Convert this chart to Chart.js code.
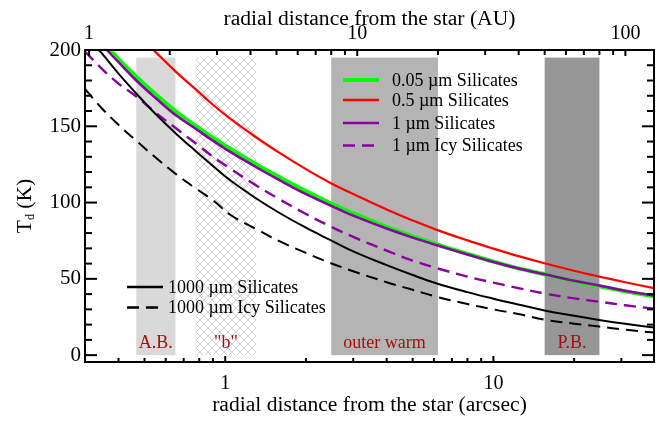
<!DOCTYPE html>
<html>
<head>
<meta charset="utf-8">
<title>Dust temperature vs. radial distance</title>
<script src="https://cdn.jsdelivr.net/npm/chart.js@4.4.1/dist/chart.umd.min.js"></script>
<style>
  html, body { margin: 0; padding: 0; background: #ffffff; }
  #wrap { width: 660px; height: 422px; }
</style>
</head>
<body>
<div id="wrap"><canvas id="chart" width="660" height="422"></canvas></div>
<script>
// ---- data ---------------------------------------------------------------
// angular to linear distance (AU per arcsec)
const AU_PER_ARCSEC = 3.22;

// sampling radii (arcsec)
const radiusArcsec = [0.3, 0.35, 0.4, 0.466, 0.55, 0.657, 0.773, 0.9, 1.044, 1.31, 1.6, 2.0,
                      2.46, 3.0, 4.0, 5.0, 6.15, 8.0, 10, 12.5, 15.5, 20, 24.8, 31, 39.7];

// dust temperatures (K) for each grain type; null = above 200 K
const tSil005   = [null, null, 194, 182.5, 171, 159.5, 150.5, 142.5, 135.4, 125, 116.5, 107.5,
                   99.7, 93, 84, 77.8, 72.6, 66.4, 61.3, 56.7, 53, 48.5, 45.2, 41.8, 38.5];
const tSil05    = [null, null, null, null, 198.6, 185.5, 174.5, 164.1, 155, 142.5, 132.4, 121.9,
                   113, 105.6, 95.5, 88.3, 82.1, 75.2, 69.8, 64.7, 60.2, 55.3, 51.5, 47.8, 43.9];
const tSil1     = [null, null, 192, 180, 168.5, 157, 148.5, 140.5, 133.2, 123, 114.5, 105.5,
                   98.2, 91.5, 83, 77, 72, 66, 61, 56.6, 53, 48.7, 45.6, 42.2, 39.0];
const tIcy1     = [199, 187, 178, 169.5, 159, 148.5, 139, 130, 122.3, 111, 102, 92.5,
                   84.5, 77.5, 68.5, 62, 57, 51.5, 47.5, 43.8, 40.4, 37.2, 35, 32.7, 30.4];
const tSil1000  = [null, 197, 184.5, 171.5, 158, 145, 134, 124, 114.6, 102.5, 93, 83.5,
                   75.5, 68, 59, 52.5, 47, 41.3, 37, 33, 29.3, 25.8, 23.1, 20.6, 18.1];
const tIcy1000  = [174.5, 161, 151, 140.5, 129.5, 118.5, 109.5, 101.5, 92, 82.5, 74.5, 67,
                   60.5, 55, 47.8, 42.8, 38.2, 33.5, 30, 26.8, 23.2, 20.6, 18.7, 16.7, 14.8];

// radius (arcsec) where each curve reaches 200 K
const entryRadius = [0.373, 0.54, 0.362, null, 0.337, null];

const seriesNames = ['0.05 \u00b5m Silicates', '0.5 \u00b5m Silicates', '1 \u00b5m Silicates',
                     '1 \u00b5m Icy Silicates', '1000 \u00b5m Silicates', '1000 \u00b5m Icy Silicates'];
const seriesValues = [tSil005, tSil05, tSil1, tIcy1, tSil1000, tIcy1000];

// dust belts / zones (AU)
const bandLabels  = ['A.B.', '"b"', 'outer warm', 'P.B.'];
const bandInnerAU = [1.5, 2.5, 8, 50];
const bandOuterAU = [2.1, 4.2, 20, 80];
const bandTopK = 195;

// tick values
const yTickValues   = [0, 50, 100, 150, 200];
const xTickValues   = [1, 10];
const auTickValues  = [1, 10, 100];
const xMinorValues  = [0.4, 0.5, 0.6, 0.7, 0.8, 0.9, 2, 3, 4, 5, 6, 7, 8, 9, 20, 30];
const auMinorValues = [2, 3, 4, 5, 6, 7, 8, 9, 20, 30, 40, 50, 60, 70, 80, 90];

// ---- styling ------------------------------------------------------------
const SERIF = '"Liberation Serif", "Times New Roman", serif';
const seriesStyle = [
  { color: '#00ff00', width: 4,   dash: [] },
  { color: '#ff0000', width: 2.2, dash: [] },
  { color: '#8c00a0', width: 2.5, dash: [] },
  { color: '#8c00a0', width: 2.4, dash: [12, 7] },
  { color: '#000000', width: 2,   dash: [] },
  { color: '#000000', width: 2,   dash: [12, 7] }
];
const drawOrder = [5, 4, 3, 2, 1, 0];
const bandFills = ['#d9d9d9', 'hatch', '#b4b4b4', '#979797'];
const labelRed = '#a31010';

function buildPoints(k) {
  const pts = [];
  if (entryRadius[k] !== null) pts.push({ x: entryRadius[k], y: 200 });
  radiusArcsec.forEach((r, i) => {
    const v = seriesValues[k][i];
    if (v !== null) pts.push({ x: r, y: v });
  });
  return pts;
}

const datasets = seriesNames.map((name, k) => ({
  label: name,
  data: buildPoints(k),
  borderColor: seriesStyle[k].color,
  borderWidth: seriesStyle[k].width,
  borderDash: seriesStyle[k].dash,
  pointRadius: 0,
  fill: false,
  tension: 0.4,
  order: drawOrder[k]
}));

function hatchPattern(ctx) {
  const c = document.createElement('canvas');
  c.width = 8; c.height = 8;
  const g = c.getContext('2d');
  g.fillStyle = '#ffffff';
  g.fillRect(0, 0, 8, 8);
  g.strokeStyle = '#d0d0d0';
  g.lineWidth = 1;
  g.beginPath();
  g.moveTo(-1, -1); g.lineTo(9, 9);
  g.moveTo(9, -1); g.lineTo(-1, 9);
  g.stroke();
  return ctx.createPattern(c, 'repeat');
}

// shaded zones behind the curves
const zonePlugin = {
  id: 'zones',
  beforeDatasetsDraw(chart) {
    const { ctx, scales: { x, y } } = chart;
    ctx.save();
    bandLabels.forEach((label, i) => {
      const x0 = x.getPixelForValue(bandInnerAU[i] / AU_PER_ARCSEC);
      const x1 = x.getPixelForValue(bandOuterAU[i] / AU_PER_ARCSEC);
      const y0 = y.getPixelForValue(bandTopK);
      const y1 = y.getPixelForValue(0);
      ctx.fillStyle = bandFills[i] === 'hatch' ? hatchPattern(ctx) : bandFills[i];
      ctx.fillRect(x0, y0, x1 - x0, y1 - y0);
      ctx.fillStyle = labelRed;
      ctx.font = '18px ' + SERIF;
      ctx.textAlign = 'center';
      ctx.textBaseline = 'alphabetic';
      ctx.fillText(label, (x0 + x1) / 2, y1 - 7);
    });
    ctx.restore();
  }
};

// frame, inward ticks, legends and the y-axis title
const framePlugin = {
  id: 'frame',
  afterDatasetsDraw(chart) {
    const { ctx, chartArea: { left, right, top, bottom }, scales: { x, xTop, y } } = chart;
    ctx.save();
    ctx.strokeStyle = '#000';
    ctx.lineWidth = 2;
    ctx.strokeRect(left, top, right - left, bottom - top);

    const seg = (x0, y0, x1, y1) => { ctx.beginPath(); ctx.moveTo(x0, y0); ctx.lineTo(x1, y1); ctx.stroke(); };
    ctx.lineWidth = 2;
    for (let v = 0; v <= 200; v += 10) {
      const py = y.getPixelForValue(v);
      const len = yTickValues.includes(v) ? 12 : 7;
      seg(left, py, left + len, py);
      seg(right, py, right - len, py);
    }
    xTickValues.forEach(v => { const px = x.getPixelForValue(v); seg(px, bottom, px, bottom - 6); });
    xMinorValues.forEach(v => { const px = x.getPixelForValue(v); seg(px, bottom, px, bottom - 4); });
    auTickValues.forEach(v => { const px = xTop.getPixelForValue(v); seg(px, top, px, top + 6); });
    auMinorValues.forEach(v => { const px = xTop.getPixelForValue(v); seg(px, top, px, top + 5); });

    // legends
    const legendRows = [
      { k: 0, x: 343, y: 80 }, { k: 1, x: 343, y: 100 }, { k: 2, x: 343, y: 123 }, { k: 3, x: 343, y: 145.5 },
      { k: 4, x: 127, y: 287 }, { k: 5, x: 127, y: 307.5 }
    ];
    ctx.font = '18px ' + SERIF;
    ctx.textAlign = 'left';
    ctx.textBaseline = 'alphabetic';
    legendRows.forEach(row => {
      const st = seriesStyle[row.k];
      ctx.strokeStyle = st.color;
      ctx.lineWidth = Math.max(st.width, 2.5);
      ctx.setLineDash(st.dash);
      seg(row.x, row.y, row.x + 36, row.y);
      ctx.setLineDash([]);
      ctx.fillStyle = '#000';
      ctx.fillText(seriesNames[row.k], row.x + (row.k >= 4 ? 41 : 49), row.y + 5.5);
    });

    // y-axis title: T_d (K)
    ctx.translate(31, 206);
    ctx.rotate(-Math.PI / 2);
    ctx.fillStyle = '#000';
    const big = '21.5px ' + SERIF, small = '12px ' + SERIF;
    ctx.font = big; const wT = ctx.measureText('T').width; const wK = ctx.measureText(' (K)').width;
    ctx.font = small; const wd = ctx.measureText('d').width;
    let tx = -(wT + wd + wK) / 2;
    ctx.font = big; ctx.fillText('T', tx, 0); tx += wT;
    ctx.font = small; ctx.fillText('d', tx, 3); tx += wd;
    ctx.font = big; ctx.fillText(' (K)', tx, 0);
    ctx.restore();
  }
};

const tickFont = { family: SERIF, size: 20 };
const yTickFont = { family: SERIF, size: 21 };
const titleFont = { family: SERIF, size: 21.6 };

new Chart(document.getElementById('chart'), {
  type: 'line',
  data: { datasets },
  options: {
    responsive: false,
    animation: false,
    devicePixelRatio: 1,
    events: [],
    layout: { padding: { right: 6 } },
    plugins: { legend: { display: false }, tooltip: { enabled: false } },
    scales: {
      x: {
        type: 'logarithmic',
        position: 'bottom',
        min: 0.3,
        max: 39.7,
        grid: { display: false, drawTicks: false },
        border: { display: false },
        afterBuildTicks: s => { s.ticks = xTickValues.map(v => ({ value: v })); },
        afterFit: s => { s.height = 60; },
        ticks: { autoSkip: false, maxRotation: 0, minRotation: 0, padding: 10, color: '#000', font: tickFont,
                 callback: v => String(v) },
        title: { display: true, text: 'radial distance from the star (arcsec)', color: '#000', font: titleFont,
                 padding: { top: 0, bottom: 3.5 } }
      },
      xTop: {
        type: 'logarithmic',
        position: 'top',
        min: 0.3 * AU_PER_ARCSEC,
        max: 39.7 * AU_PER_ARCSEC,
        grid: { display: false, drawTicks: false },
        border: { display: false },
        afterBuildTicks: s => { s.ticks = auTickValues.map(v => ({ value: v })); },
        afterFit: s => { s.height = 50; },
        ticks: { autoSkip: false, maxRotation: 0, minRotation: 0, padding: 4.5, color: '#000', font: tickFont,
                 callback: v => String(v) },
        title: { display: true, text: 'radial distance from the star (AU)', color: '#000', font: titleFont,
                 padding: { top: 6.5, bottom: 0 } }
      },
      y: {
        type: 'linear',
        position: 'left',
        min: -4.5,
        max: 200,
        grid: { display: false, drawTicks: false },
        border: { display: false },
        afterBuildTicks: s => { s.ticks = yTickValues.map(v => ({ value: v })); },
        afterFit: s => { s.width = 85; },
        ticks: { autoSkip: false, padding: 4, color: '#000', font: yTickFont }
      }
    }
  },
  plugins: [zonePlugin, framePlugin]
});
</script>
</body>
</html>
